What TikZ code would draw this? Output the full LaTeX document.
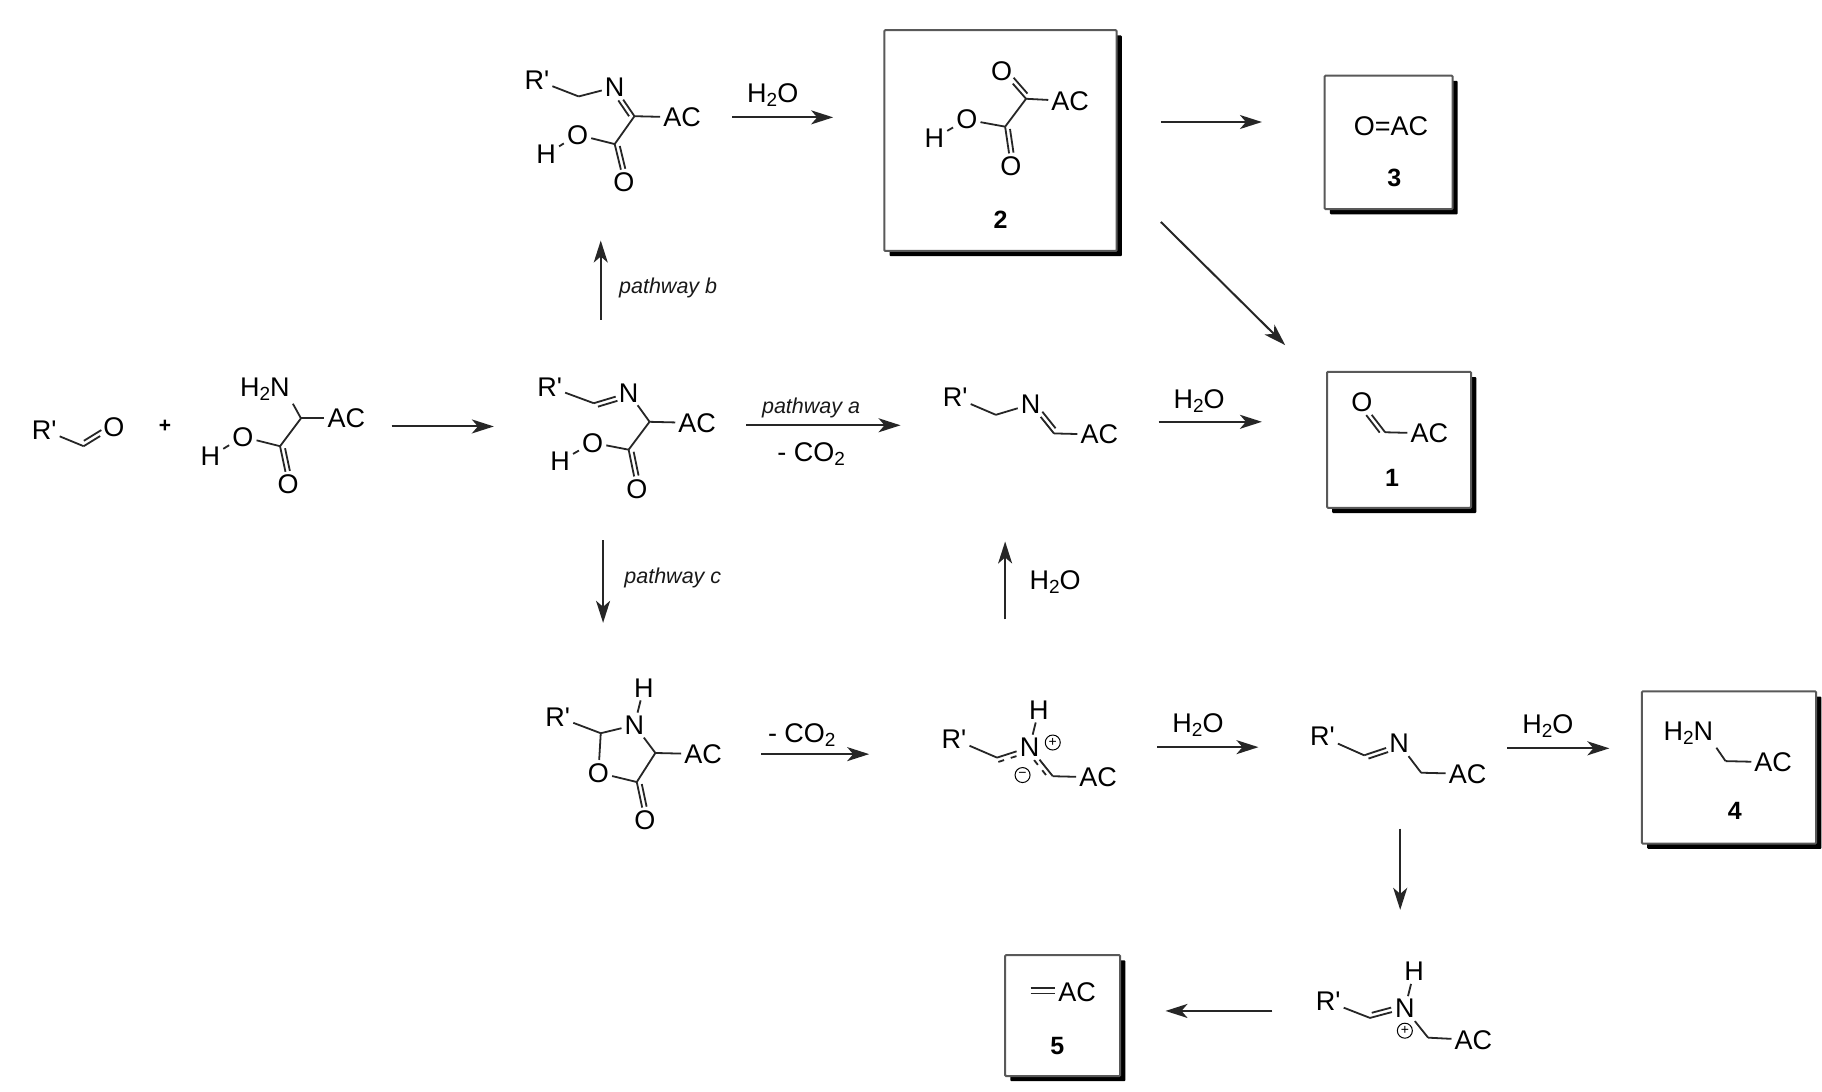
\documentclass[tikz,border=0pt]{standalone}
\usepackage{fontspec}
\setmainfont{Liberation Sans}
\usetikzlibrary{arrows.meta,calc}
\newcommand\lowtwo{\raisebox{-0.28ex}{\fontsize{19}{19}\selectfont 2}}
\newcommand\watr{H\lowtwo O}
\newcommand\Rp{R\textquotesingle}
\tikzset{
  atom/.style={inner sep=3pt,font=\fontsize{27}{27}\selectfont,text=black},
  tag/.style={inner sep=0pt,font=\fontsize{27}{27}\selectfont,text=black},
  path label/.style={inner sep=0pt,font=\fontsize{21.5}{21.5}\selectfont\itshape,text=black!90},
  num/.style={inner sep=0pt,font=\fontsize{25}{25}\selectfont\bfseries},
  chg/.style={draw,circle,inner sep=0pt,minimum size=15pt,line width=1pt,font=\fontsize{14}{14}\selectfont},
  bondline/.style={line width=1.8pt,black!85},
  rxn/.style={line width=2pt,black!85,-{Stealth[length=22pt,width=14pt,inset=6pt]}},
  prod/.style={draw=black!65,line width=2pt,fill=white,rounded corners=1pt},
  shade/.style={fill=black,rounded corners=1pt}
}
\newcommand\atomn[3]{\node[atom] (#1) at (#2) {#3};}
\newcommand\cn[2]{\coordinate (#1) at (#2);}
\newcommand\bnd[2]{\draw[bondline] (#1) -- (#2);}
% a, b, offset of second line (+ = left of a->b), shorten at a, shorten at b
\newcommand\dbl[5]{\draw[bondline] (#1) -- (#2);
  \draw[bondline,shorten <=#4,shorten >=#5] ($(#1)!#3!90:(#2)$) -- ($(#2)!#3!-90:(#1)$);}
\newcommand\rxnarrow[3]{\coordinate (#1s) at (#2); \coordinate (#1e) at (#3); \draw[rxn] (#1s) -- (#1e);}
\newcommand\prodbox[5]{\fill[shade,shift={(4.5,4.5)}] (#1,#2) rectangle (#3,#4);
  \draw[prod] (#1,#2) rectangle (#3,#4); \coordinate (#5) at (#1,#2);}
\begin{document}
\begin{tikzpicture}[x=1.162pt,y=-1.162pt]
\useasboundingbox (0,0) rectangle (1568,939);
\fill[white] (0,0) rectangle (1568,939);

% product boxes
\prodbox{761}{26}{961}{216}{boxtwo}
\prodbox{1140}{65}{1250}{180}{boxthree}
\prodbox{1142}{320}{1266}{437}{boxone}
\prodbox{1413}{595}{1563}{726}{boxfour}
\prodbox{865}{822}{964}{926}{boxfive}

% aldehyde + amino acid
\atomn{aR}{38,370}{\Rp}
\cn{aC}{72,384}
\atomn{aO}{98,368}{O}
\bnd{aR}{aC}
\dbl{aC}{aO}{4.5pt}{3pt}{12pt}
\node[tag,font=\fontsize{21}{21}\selectfont\bfseries] (plus) at (142,367) {+};
\atomn{bN}{228,335}{H\lowtwo N}
\cn{bA}{259,360}
\atomn{bAC}{298,360}{AC}
\cn{bC}{241,384}
\atomn{bO}{209,376}{O}
\atomn{bH}{181,393}{H}
\atomn{bOd}{248,417}{O}
\draw[bondline] (bN.south east) -- (bA);
\bnd{bA}{bAC}\bnd{bA}{bC}\bnd{bC}{bO}\bnd{bO}{bH}
\dbl{bC}{bOd}{4.5pt}{3pt}{13pt}
\rxnarrow{r1}{337,367}{425,367}

% top imine
\atomn{cR}{462,69}{\Rp}
\cn{cM}{498,83}
\atomn{cN}{529,75}{N}
\cn{cA}{546,100}
\atomn{cAC}{587,101}{AC}
\cn{cC}{529,124}
\atomn{cO}{497,116}{O}
\atomn{cH}{470,133}{H}
\atomn{cOd}{537,157}{O}
\bnd{cR}{cM}\bnd{cM}{cN}
\dbl{cN}{cA}{-4.5pt}{13pt}{3pt}
\bnd{cA}{cAC}\bnd{cA}{cC}\bnd{cC}{cO}\bnd{cO}{cH}
\dbl{cC}{cOd}{4.5pt}{3pt}{13pt}
\rxnarrow{r2}{630,101}{717,101}
\node[tag] (l1) at (665,82) {\watr};

% compound 2
\atomn{dOt}{862,61}{O}
\cn{dK}{883,85}
\atomn{dAC}{921,87}{AC}
\cn{dC}{865,109}
\atomn{dO}{832,103}{O}
\atomn{dH}{804,119}{H}
\atomn{dOd}{870,143}{O}
\dbl{dK}{dOt}{-4.5pt}{3pt}{13pt}
\bnd{dK}{dAC}\bnd{dK}{dC}\bnd{dC}{dO}\bnd{dO}{dH}
\dbl{dC}{dOd}{4.5pt}{3pt}{13pt}
\node[num] (n2) at (861,189) {2};

\rxnarrow{r3}{999,105}{1086,105}
\rxnarrow{r4}{999,191}{1106,297}

% compound 3
\node[tag] (p3) at (1197,109) {O=AC};
\node[num] (n3) at (1200,153) {3};

% middle imine
\rxnarrow{r5}{517,275}{517,207}
\node[path label] (lb) at (575,248) {pathway b};
\atomn{eR}{473,333}{\Rp}
\cn{eM}{511,347}
\atomn{eN}{541,338}{N}
\cn{eA}{559,363}
\atomn{eAC}{600,364}{AC}
\cn{eC}{541,387}
\atomn{eO}{510,381}{O}
\atomn{eH}{482,397}{H}
\atomn{eOd}{548,421}{O}
\bnd{eR}{eM}
\dbl{eM}{eN}{-4.5pt}{3pt}{13pt}
\bnd{eN}{eA}\bnd{eA}{eAC}\bnd{eA}{eC}\bnd{eC}{eO}\bnd{eO}{eH}
\dbl{eC}{eOd}{4.5pt}{3pt}{13pt}
\rxnarrow{r6}{642,366}{775,366}
\node[path label] (la) at (698,351) {pathway a};
\node[tag] (lco) at (698,391) {- CO\lowtwo};

% imine after decarboxylation
\atomn{fR}{822,342}{\Rp}
\cn{fM}{857,357}
\atomn{fN}{887,348}{N}
\cn{fA}{907,373}
\atomn{fAC}{946,374}{AC}
\bnd{fR}{fM}\bnd{fM}{fN}
\dbl{fN}{fA}{4.5pt}{13pt}{3pt}
\bnd{fA}{fAC}
\rxnarrow{r7}{997,363}{1086,363}
\node[tag] (l2) at (1032,345) {\watr};

% compound 1
\atomn{gO}{1172,346}{O}
\cn{gC}{1192,372}
\atomn{gAC}{1230,373}{AC}
\dbl{gC}{gO}{4.5pt}{3pt}{13pt}
\bnd{gC}{gAC}
\node[num] (n1) at (1198,411) {1};

% vertical arrows
\rxnarrow{r8}{519,465}{519,536}
\node[path label] (lc) at (579,497) {pathway c};
\rxnarrow{r9}{865,533}{865,466}
\node[tag] (l3) at (908,501) {\watr};

% oxazolidinone
\atomn{hH}{554,592}{H}
\atomn{hN}{546,624}{N}
\atomn{hR}{480,617}{\Rp}
\cn{hC}{517,631}
\atomn{hO}{515,665}{O}
\cn{hK}{548,673}
\atomn{hOd}{555,706}{O}
\cn{hA}{564,648}
\atomn{hAC}{605,649}{AC}
\bnd{hH}{hN}\bnd{hN}{hC}\bnd{hR}{hC}\bnd{hC}{hO}\bnd{hO}{hK}\bnd{hK}{hA}\bnd{hA}{hN}\bnd{hA}{hAC}
\dbl{hK}{hOd}{4.5pt}{3pt}{13pt}
\rxnarrow{r10}{655,649}{748,649}
\node[tag] (lco2) at (690,633) {- CO\lowtwo};

% azomethine ylide
\atomn{iR}{821,636}{\Rp}
\cn{iC}{858,652}
\atomn{iN}{886,643}{N}
\atomn{iH}{894,611}{H}
\node[chg] (iP) at (906,639) {+};
\node[chg] (iM) at (880,667) {−};
\cn{iD}{906,668}
\atomn{iAC}{945,669}{AC}
\bnd{iR}{iC}\bnd{iC}{iN}\bnd{iN}{iH}\bnd{iN}{iD}\bnd{iD}{iAC}
\draw[bondline,dash pattern=on 6pt off 7pt] ($(iC)!4.5pt!-90:(iN)$) -- ($(iN)!13pt!(iC)!4.5pt!90:(iC)$);
\draw[bondline,dash pattern=on 6pt off 7pt] ($(iN)!13pt!(iD)!4.5pt!-90:(iD)$) -- ($(iD)!4.5pt!90:(iN)$);
\rxnarrow{r11}{996,643}{1083,643}
\node[tag] (l4) at (1031,624) {\watr};

% imine
\atomn{jR}{1138,634}{\Rp}
\cn{jC}{1174,650}
\atomn{jN}{1204,640}{N}
\cn{jM}{1223,665}
\atomn{jAC}{1263,666}{AC}
\bnd{jR}{jC}
\dbl{jC}{jN}{-4.5pt}{3pt}{13pt}
\bnd{jN}{jM}\bnd{jM}{jAC}
\rxnarrow{r12}{1297,644}{1385,644}
\node[tag] (l5) at (1332,625) {\watr};

% compound 4
\atomn{kN}{1453,631}{H\lowtwo N}
\cn{kM}{1485,655}
\atomn{kAC}{1526,656}{AC}
\draw[bondline] (kN.south east) -- (kM);
\bnd{kM}{kAC}
\node[num] (n4) at (1493,698) {4};

\rxnarrow{r13}{1205,713}{1205,783}

% iminium
\atomn{mR}{1143,862}{\Rp}
\cn{mC}{1179,876}
\atomn{mN}{1209,868}{N}
\atomn{mH}{1217,836}{H}
\node[chg] (mP) at (1209,887) {+};
\cn{mM}{1229,893}
\atomn{mAC}{1268,895}{AC}
\bnd{mR}{mC}
\dbl{mC}{mN}{4.5pt}{3pt}{13pt}
\bnd{mN}{mH}\bnd{mN}{mM}\bnd{mM}{mAC}
\rxnarrow{r14}{1095,870}{1003,870}

% compound 5
\atomn{nAC}{927,854}{AC}
\cn{nS}{887,850}
\coordinate (nE) at (908,850);
\draw[bondline] (nS) -- (nE);
\draw[bondline] ($(nS)+(0,5)$) -- ($(nE)+(0,5)$);
\node[num] (n5) at (910,900) {5};
\end{tikzpicture}
\end{document}
